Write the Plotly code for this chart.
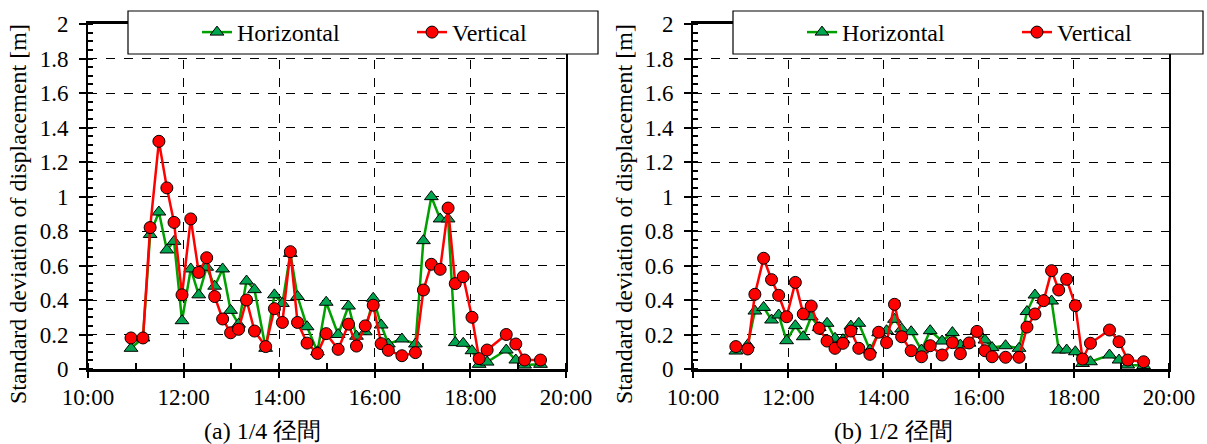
import plotly.graph_objects as go

# ---- data ----
times = ["10:54", "11:09", "11:18", "11:29", "11:39", "11:48", "11:58", "12:09", "12:19", "12:29",
         "12:39", "12:49", "12:59", "13:09", "13:19", "13:29", "13:43", "13:54", "14:04", "14:14",
         "14:23", "14:35", "14:48", "14:59", "15:14", "15:27", "15:37", "15:48", "15:58", "16:08",
         "16:17", "16:34", "16:51", "17:01", "17:11", "17:22", "17:32", "17:41", "17:51", "18:02",
         "18:11", "18:21", "18:45", "18:57", "19:08", "19:28"]

quarter_horizontal = [0.12, 0.18, 0.78, 0.91, 0.69, 0.74, 0.28, 0.58, 0.43, 0.59,
                      0.48, 0.58, 0.34, 0.26, 0.51, 0.46, 0.12, 0.43, 0.38, 0.67,
                      0.42, 0.245, 0.10, 0.387, 0.20, 0.365, 0.19, 0.216, 0.41, 0.255,
                      0.145, 0.174, 0.145, 0.744, 0.999, 0.87, 0.87, 0.153, 0.149, 0.106,
                      0.027, 0.04, 0.11, 0.052, 0.023, 0.027]
quarter_vertical = [0.18, 0.18, 0.82, 1.32, 1.05, 0.85, 0.43, 0.87, 0.56, 0.645,
                    0.42, 0.29, 0.21, 0.23, 0.40, 0.22, 0.13, 0.35, 0.27, 0.68,
                    0.27, 0.15, 0.09, 0.205, 0.114, 0.26, 0.133, 0.25, 0.37, 0.147,
                    0.108, 0.077, 0.095, 0.458, 0.607, 0.578, 0.933, 0.495, 0.535, 0.30,
                    0.06, 0.11, 0.20, 0.145, 0.052, 0.052]

half_horizontal = [0.104, 0.14, 0.336, 0.357, 0.284, 0.313, 0.164, 0.251, 0.187, 0.303,
                   0.24, 0.265, 0.178, 0.17, 0.249, 0.265, 0.11, 0.21, 0.222, 0.288,
                   0.232, 0.216, 0.11, 0.222, 0.162, 0.211, 0.139, 0.15, 0.22, 0.168,
                   0.124, 0.135, 0.12, 0.333, 0.429, 0.40, 0.394, 0.11, 0.11, 0.10,
                   0.032, 0.042, 0.081, 0.052, 0.023, 0.02]
half_vertical = [0.13, 0.116, 0.433, 0.642, 0.518, 0.427, 0.303, 0.502, 0.319, 0.365,
                 0.236, 0.162, 0.12, 0.149, 0.22, 0.12, 0.085, 0.213, 0.153, 0.375,
                 0.187, 0.106, 0.071, 0.135, 0.081, 0.153, 0.089, 0.151, 0.218, 0.106,
                 0.071, 0.068, 0.068, 0.243, 0.319, 0.396, 0.57, 0.458, 0.52, 0.367,
                 0.058, 0.149, 0.226, 0.158, 0.052, 0.042]

panel_titles = ["(a) 1/4 径間", "(b) 1/2 径間"]
series_names = ["Horizontal", "Vertical"]
y_title = "Standard deviation of displacement [m]"

DAY = "2020-01-01 "
x = [DAY + t for t in times]

W, H = 1207, 444
FONT = "Liberation Serif"
GREEN_LINE = "#00A000"
GREEN_FILL = "#00A550"
RED = "#FF0000"

fig = go.Figure()

panels = [
    dict(h=quarter_horizontal, v=quarter_vertical, xa="x", ya="y", legend="legend"),
    dict(h=half_horizontal, v=half_vertical, xa="x2", ya="y2", legend="legend2"),
]
for p in panels:
    fig.add_trace(go.Scatter(
        x=x, y=p["h"], name=series_names[0], mode="lines+markers",
        xaxis=p["xa"], yaxis=p["ya"], legend=p["legend"],
        line=dict(color=GREEN_LINE, width=2.5),
        marker=dict(symbol="triangle-up", size=12, color=GREEN_FILL,
                    line=dict(color="black", width=1)),
    ))
    fig.add_trace(go.Scatter(
        x=x, y=p["v"], name=series_names[1], mode="lines+markers",
        xaxis=p["xa"], yaxis=p["ya"], legend=p["legend"],
        line=dict(color=RED, width=2.5),
        marker=dict(symbol="circle", size=12, color=RED,
                    line=dict(color="black", width=1)),
    ))

# plot-area geometry in pixels
left_px = [(88, 566), (693, 1169)]
top_px, bottom_px = 24, 369
ydom = [1 - bottom_px / H, 1 - top_px / H]
TICK_SIZE = 23
TEXT_SIZE = 24

def xaxis_cfg(dom, anchor):
    return dict(
        domain=[dom[0] / W, dom[1] / W], anchor=anchor, type="date", automargin=False,
        range=[DAY + "10:00", DAY + "20:00"],
        tick0=DAY + "10:00", dtick=2 * 3600 * 1000, tickformat="%H:%M",
        ticks="outside", ticklen=6, tickwidth=1.5, tickcolor="black",
        showline=True, linewidth=2.5, linecolor="black", mirror=True,
        showgrid=True, gridcolor="black", griddash="dash", gridwidth=1,
        zeroline=False,
        minor=dict(dtick=3600 * 1000, ticks="inside", ticklen=6, tickwidth=1.5,
                   tickcolor="black", showgrid=False),
        tickfont=dict(family=FONT, size=TICK_SIZE, color="black"),
    )

def yaxis_cfg(anchor):
    return dict(
        domain=ydom, anchor=anchor, range=[0, 2], dtick=0.2, tick0=0, automargin=False,
        ticks="outside", ticklen=7, tickwidth=1.5, tickcolor="black",
        showline=True, linewidth=2, linecolor="black", mirror=True,
        showgrid=True, gridcolor="black", griddash="dash", gridwidth=1,
        zeroline=False, ticklabelstandoff=6,
        minor=dict(dtick=0.05, ticks="inside", ticklen=5, tickwidth=1.5,
                   tickcolor="black", showgrid=False),
        tickfont=dict(family=FONT, size=TICK_SIZE, color="black"),
    )

shapes = []
annotations = []
legend_box_px = [(128, 598), (733, 1203)]
caption_cx = [262, 894]
ytitle_cx = [18, 624]
for i, (bx0, bx1) in enumerate(legend_box_px):
    shapes.append(dict(type="rect", xref="paper", yref="paper",
                       x0=bx0 / W, x1=bx1 / W, y0=1 - 54 / H, y1=1 - 11 / H,
                       fillcolor="white", line=dict(color="black", width=1.2),
                       layer="above"))
    annotations.append(dict(text=panel_titles[i], xref="paper", yref="paper",
                            x=caption_cx[i] / W, y=1 - 431 / H, xanchor="center", yanchor="middle",
                            showarrow=False,
                            font=dict(family=FONT, size=TEXT_SIZE, color="black")))
    annotations.append(dict(text=y_title, xref="paper", yref="paper", textangle=-90,
                            x=ytitle_cx[i] / W, y=1 - 214 / H, xanchor="center", yanchor="middle",
                            showarrow=False,
                            font=dict(family=FONT, size=TEXT_SIZE, color="black")))

def legend_cfg(px):
    return dict(orientation="h", x=px / W, xanchor="left", y=1 - 32.5 / H, yanchor="middle",
                bgcolor="rgba(0,0,0,0)", borderwidth=0, entrywidth=170,
                font=dict(family=FONT, size=TEXT_SIZE, color="black"),
                itemwidth=30, tracegroupgap=0)

fig.update_layout(
    width=W, height=H, margin=dict(l=0, r=0, t=0, b=0, autoexpand=False),
    paper_bgcolor="white", plot_bgcolor="white",
    font=dict(family=FONT, size=TEXT_SIZE, color="black"),
    xaxis=xaxis_cfg(left_px[0], "y"),
    yaxis=yaxis_cfg("x"),
    xaxis2=xaxis_cfg(left_px[1], "y2"),
    yaxis2=yaxis_cfg("x2"),
    legend=legend_cfg(197),
    legend2=legend_cfg(802),
    shapes=shapes,
    annotations=annotations,
    showlegend=True,
)

fig.write_html("out.html")
